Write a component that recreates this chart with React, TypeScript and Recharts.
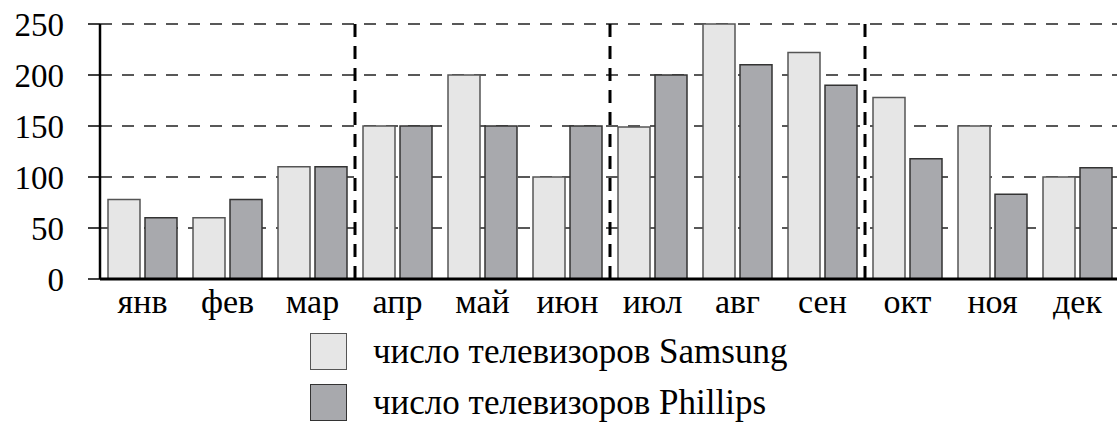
import React from 'react';
import { BarChart, Bar, XAxis, YAxis, CartesianGrid, ReferenceLine, Legend } from 'recharts';

const months = ['янв', 'фев', 'мар', 'апр', 'май', 'июн', 'июл', 'авг', 'сен', 'окт', 'ноя', 'дек'];
const samsung = [78, 60, 110, 150, 200, 100, 149, 250, 222, 178, 150, 100];
const phillips = [60, 78, 110, 150, 150, 150, 200, 210, 190, 118, 83, 109];
const yTicks = [0, 50, 100, 150, 200, 250];
const quarterStarts = ['апр', 'июл', 'окт'];

const seriesNames = {
  samsung: 'число телевизоров Samsung',
  phillips: 'число телевизоров Phillips',
};
const legendOrder = ['samsung', 'phillips'];

const data = months.map((m, i) => ({ m, samsung: samsung[i], phillips: phillips[i] }));

const FONT = "'Liberation Serif', 'Times New Roman', Times, 'Nimbus Roman', 'Noto Serif', FreeSerif, 'DejaVu Serif', serif";

const LegendContent = (props: any) => {
  const payload = [...(props.payload || [])].sort(
    (a: any, b: any) => legendOrder.indexOf(a.dataKey) - legendOrder.indexOf(b.dataKey)
  );
  return (
    <div style={{ fontFamily: FONT }}>
      {payload.map((p: any, i: number) => (
        <div key={i} style={{ display: 'flex', alignItems: 'center', height: 51 }}>
          <span
            style={{
              display: 'inline-block',
              width: 35,
              height: 35,
              background: p.color,
              border: `1.5px solid ${p.dataKey === 'samsung' ? '#555' : '#333'}`,
              marginRight: 26,
              flexShrink: 0,
            }}
          />
          <span style={{ fontSize: 35, color: '#000', fontFamily: FONT, whiteSpace: 'nowrap' }}>{p.value}</span>
        </div>
      ))}
    </div>
  );
};

export default function App() {
  return (
    <div style={{ position: 'absolute', left: 0, top: 0, width: 1117, height: 427, overflow: 'hidden', background: '#fff', fontFamily: FONT }}>
      <BarChart
        width={1120}
        height={427}
        data={data}
        margin={{ top: 24, right: 0, left: 0, bottom: 0 }}
        barSize={32}
        barGap={5}
        style={{ fontFamily: FONT }}
      >
        <CartesianGrid vertical={false} stroke="#222" strokeWidth={1.3} strokeDasharray="12 10" />
        <XAxis
          dataKey="m"
          height={148}
          tickLine={false}
          axisLine={{ stroke: '#000', strokeWidth: 3 }}
          tick={{ fontSize: 34, fill: '#000', fontFamily: FONT }}
          tickMargin={4}
          interval={0}
        />
        <YAxis
          domain={[0, 250]}
          ticks={yTicks}
          width={100}
          tickSize={12}
          tickMargin={24}
          interval={0}
          axisLine={{ stroke: '#000', strokeWidth: 2.5 }}
          tickLine={{ stroke: '#000', strokeWidth: 1.5 }}
          tick={{ fontSize: 33, fill: '#000', fontFamily: FONT }}
        />
        {quarterStarts.map((q) => (
          <ReferenceLine key={q} x={q} position="start" stroke="#000" strokeWidth={3} strokeDasharray="13 9" />
        ))}
        <Bar dataKey="samsung" name={seriesNames.samsung} fill="#e6e6e6" stroke="#555" strokeWidth={1.5} isAnimationActive={false} />
        <Bar dataKey="phillips" name={seriesNames.phillips} fill="#a8a9ad" stroke="#333" strokeWidth={1.5} isAnimationActive={false} />
        <Legend
          layout="vertical"
          align="center"
          verticalAlign="middle"
          content={<LegendContent />}
          wrapperStyle={{ left: 310, top: 326, width: 700, height: 102 }}
        />
      </BarChart>
    </div>
  );
}
